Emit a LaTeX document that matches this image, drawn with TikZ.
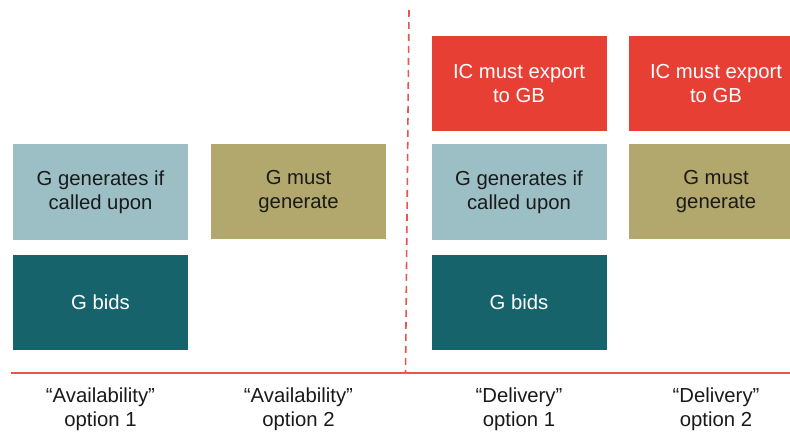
\documentclass[tikz,border=0pt]{standalone}
\usepackage{fontspec}
\setmainfont{Liberation Sans}
\usetikzlibrary{positioning}
\definecolor{tealbox}{HTML}{17636C}
\definecolor{paleblue}{HTML}{9BBFC4}
\definecolor{olivebox}{HTML}{B2A76D}
\definecolor{redbox}{HTML}{E83F35}
\definecolor{redline}{HTML}{E8554D}
\definecolor{inktext}{HTML}{1A1A1A}
\tikzset{
block/.style={rectangle,inner sep=2pt,minimum width=175pt,minimum height=95pt,align=center,text=inktext},
bidsbox/.style={block,fill=tealbox,text=white},
calledbox/.style={block,fill=paleblue},
mustbox/.style={block,fill=olivebox},
exportbox/.style={block,fill=redbox,text=white},
optlabel/.style={align=center,text=inktext},
divider/.style={draw=redline,line width=1.6pt},
}
\tikzstyle{every node}=[font=\fontsize{20.3}{24}\selectfont]
\begin{document}
\begin{tikzpicture}[x=1pt,y=-1pt]
        \clip (0,0) rectangle (790,433);
        \fill[white] (0,0) rectangle (790,433);

        \node[bidsbox] (bidsA) at (100.5,302) {G bids};
        \node[calledbox] (calledA) at (100.5,192) {G generates if\\called upon};
        \node[mustbox] (mustA) at (298.5,191.5) {G must\\generate};

        \node[exportbox] (exportB) at (519,83.5) {IC must export\\to GB};
        \node[calledbox] (calledB) at (519,192) {G generates if\\called upon};
        \node[bidsbox] (bidsB) at (519,302) {G bids};

        \node[exportbox] (exportC) at (716,83.5) {IC must export\\to GB};
        \node[mustbox] (mustC) at (716,191.5) {G must\\generate};

        \coordinate (axisL) at (11,373);
        \coordinate (axisR) at (790,373);
        \coordinate (splitT) at (409,10);
        \coordinate (splitB) at (405.5,373);
        \draw[divider] (axisL) -- (axisR);
        \draw[divider,dash pattern=on 7pt off 5pt] (splitT) -- (splitB);

        \node[optlabel] (optA) at (100.5,409) {“Availability”\\option 1};
        \node[optlabel] (optB) at (298.5,409) {“Availability”\\option 2};
        \node[optlabel] (optC) at (519,409) {“Delivery”\\option 1};
        \node[optlabel] (optD) at (716,409) {“Delivery”\\option 2};
    \end{tikzpicture}
\end{document}
